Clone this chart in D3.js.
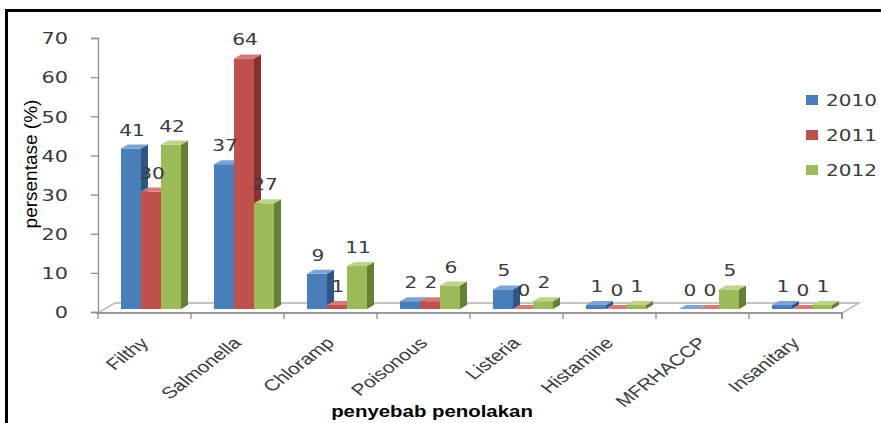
<!DOCTYPE html>
<html>
<head>
<meta charset="utf-8">
<script src="https://cdn.jsdelivr.net/npm/d3@7"></script>
<style>
  html, body { margin: 0; padding: 0; background: #fff; }
  svg { display: block; }
</style>
</head>
<body>
<svg id="chart" width="881" height="423"></svg>
<script>
// Rejected shipments by cause, share per year (%)
const categories = ["Filthy", "Salmonella", "Chloramp", "Poisonous", "Listeria", "Histamine", "MFRHACCP", "Insanitary"];
const years = ["2010", "2011", "2012"];
const values2010 = [41, 37, 9, 2, 5, 1, 0, 1];
const values2011 = [30, 64, 1, 2, 0, 0, 0, 0];
const values2012 = [42, 27, 11, 6, 2, 1, 5, 1];
const yTicks = [0, 10, 20, 30, 40, 50, 60, 70];
const yTitle = "persentase (%)";
const xTitle = "penyebab penolakan";

const seriesValues = [values2010, values2011, values2012];
const palette = [
  { front: "#4a7ebb", side: "#2f5584", top: "#7da3d4" },
  { front: "#c0504d", side: "#8a302e", top: "#d77a77" },
  { front: "#9bbb59", side: "#667f35", top: "#bcd58a" }
];

const svg = d3.select("#chart");
const W = 881, H = 423;

// plot frame
const plot = { left: 98, right: 842, top: 38, bottom: 312 };
// depth of the 3D floor and of the bars
const floorDX = 17, floorDY = -10;
const barDX = 7, barDY = -4;
const barShiftX = 5, barShiftY = -3;

const x0 = d3.scaleBand().domain(categories).range([plot.left, plot.right]).padding(0);
const x1 = d3.scaleBand().domain(years).range([18, 78]).padding(0);
const y = d3.scaleLinear().domain([0, 70]).range([plot.bottom, plot.top]);

// outer frame (top and left edges)
svg.append("line").attr("x1", 6.5).attr("x2", W).attr("y1", 10.5).attr("y2", 10.5)
  .attr("stroke", "#000").attr("stroke-width", 3);
svg.append("line").attr("x1", 6.5).attr("x2", 6.5).attr("y1", 9).attr("y2", H)
  .attr("stroke", "#000").attr("stroke-width", 3);

const axisColor = "#8c8c8c";
const textColor = "#3a3a3a";

// floor
const fy = y(0) + 1;
svg.append("path")
  .attr("d", `M${plot.left},${fy} L${plot.left + floorDX},${fy + floorDY} L${plot.right + floorDX},${fy + floorDY} L${plot.right},${fy} Z`)
  .attr("fill", "#fff").attr("stroke", "#b0b0b0").attr("stroke-width", 1.3);

// y axis
const yAxis = d3.axisLeft(y).tickValues(yTicks).tickSize(7).tickPadding(10);
const gy = svg.append("g").attr("transform", `translate(${plot.left},0)`).call(yAxis);
gy.select(".domain").attr("stroke", axisColor).attr("stroke-width", 1.3);
gy.selectAll(".tick line").attr("stroke", axisColor).attr("stroke-width", 1.3);
gy.selectAll(".tick text").remove();
gy.selectAll(".tick").append("g")
  .attr("transform", "translate(-30,0) scale(1.3,1)")
  .append("text")
  .attr("text-anchor", "end").attr("dy", "0.36em")
  .attr("font-family", "'DejaVu Sans', Verdana, sans-serif").attr("font-size", 16)
  .attr("fill", textColor)
  .text(d => d);

// x axis along the front edge of the floor
const xAxis = d3.axisBottom(x0).tickSize(6).tickFormat("");
const gx = svg.append("g").attr("transform", `translate(0,${fy})`).call(xAxis);
gx.select(".domain").attr("stroke", axisColor).attr("stroke-width", 1.3).attr("d", `M${plot.left},6V0H${plot.right}V6`);
gx.selectAll(".tick").attr("transform", d => `translate(${x0(d) + x0.bandwidth()},0)`);
gx.selectAll(".tick line").attr("stroke", axisColor).attr("stroke-width", 1.3);

// category labels
svg.append("g").selectAll("g")
  .data(categories)
  .join("g")
  .attr("transform", d => `translate(${x0(d) + x0.bandwidth() / 2 + 5},${fy + 31}) scale(1.3,1) rotate(-45)`)
  .append("text")
  .attr("text-anchor", "end")
  .attr("font-family", "'Liberation Sans', Arial, sans-serif").attr("font-size", 16)
  .attr("fill", textColor)
  .text(d => d);

// bars (2010 first so each later series covers the previous side face)
const barBase = y(0) + barShiftY;
const bw = x1.bandwidth();
years.forEach((yr, si) => {
  const col = palette[si];
  const g = svg.append("g");
  seriesValues[si].forEach((v, ci) => {
    const xl = x0(categories[ci]) + x1(yr) + barShiftX;
    const xr = xl + bw;
    const yt = y(v) + barShiftY;
    // side face
    g.append("path")
      .attr("d", `M${xr},${barBase} L${xr + barDX},${barBase + barDY} L${xr + barDX},${yt + barDY} L${xr},${yt} Z`)
      .attr("fill", col.side);
    // front face
    g.append("rect")
      .attr("x", xl).attr("y", yt).attr("width", bw).attr("height", Math.max(0, barBase - yt))
      .attr("fill", col.front);
    // top face
    g.append("path")
      .attr("d", `M${xl},${yt} L${xl + barDX},${yt + barDY} L${xr + barDX},${yt + barDY} L${xr},${yt} Z`)
      .attr("fill", col.top);
  });
});

// value labels
years.forEach((yr, si) => {
  svg.append("g").selectAll("g")
    .data(seriesValues[si].map((v, ci) => ({ v, c: categories[ci] })))
    .join("g")
    .attr("transform", d => `translate(${x0(d.c) + x1(yr) + barShiftX + bw / 2 + 1},${y(d.v) + barShiftY - 13}) scale(1.3,1)`)
    .append("text")
    .attr("text-anchor", "middle")
    .attr("font-family", "'DejaVu Sans', Verdana, sans-serif").attr("font-size", 15.5)
    .attr("fill", textColor)
    .text(d => d.v);
});

// legend
const legend = svg.append("g");
years.forEach((yr, i) => {
  const ly = 100 + i * 35;
  legend.append("rect").attr("x", 806).attr("y", ly - 5).attr("width", 12).attr("height", 10)
    .attr("fill", palette[i].front);
  legend.append("g").attr("transform", `translate(826,${ly}) scale(1.25,1)`)
    .append("text").attr("dy", "0.36em")
    .attr("font-family", "'DejaVu Sans', Verdana, sans-serif").attr("font-size", 16)
    .attr("fill", textColor)
    .text(yr);
});

// axis titles
svg.append("text")
  .attr("transform", "translate(37,164) rotate(-90)")
  .attr("text-anchor", "middle")
  .attr("font-family", "'Liberation Sans Narrow', 'Liberation Sans', Arial, sans-serif").attr("font-size", 19)
  .attr("fill", "#000")
  .text(yTitle);

svg.append("g").attr("transform", "translate(432,417) scale(1.2,1)")
  .append("text")
  .attr("text-anchor", "middle")
  .attr("font-family", "'Liberation Sans', Arial, sans-serif").attr("font-size", 17).attr("font-weight", "bold")
  .attr("fill", "#000")
  .text(xTitle);
</script>
</body>
</html>
